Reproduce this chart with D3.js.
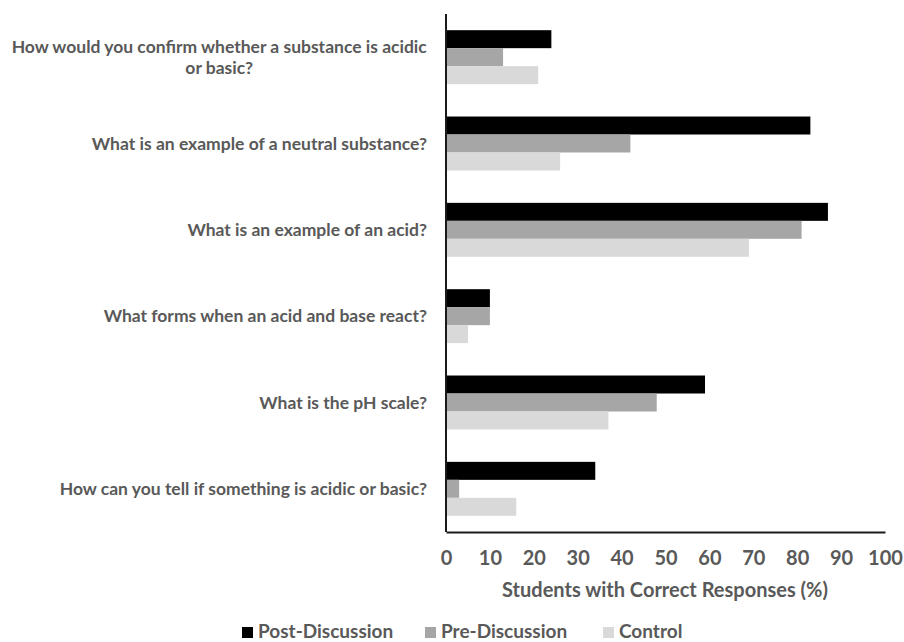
<!DOCTYPE html>
<html>
<head>
<meta charset="utf-8">
<script src="https://cdn.jsdelivr.net/npm/d3@7"></script>
<style>
  body { margin: 0; background: #fff; }
  text { font-family: Lato, "Open Sans", sans-serif; font-weight: bold; fill: #595959; }
</style>
</head>
<body>
<div id="chart"></div>
<script>
// questions, top to bottom; "\n" splits a label into lines
var questions = [
    "How would you confirm whether a substance is acidic\nor basic?",
    "What is an example of a neutral substance?",
    "What is an example of an acid?",
    "What forms when an acid and base react?",
    "What is the pH scale?",
    "How can you tell if something is acidic or basic?"
];
var seriesNames = ["Post-Discussion", "Pre-Discussion", "Control"];
var postDiscussion = [24, 83, 87, 10, 59, 34];
var preDiscussion = [13, 42, 81, 10, 48, 3];
var control = [21, 26, 69, 5, 37, 16];
var xTicks = [0, 10, 20, 30, 40, 50, 60, 70, 80, 90, 100];
var colors = ["#000000", "#a6a6a6", "#d9d9d9"];

function init() {
    var w = 904;
    var h = 642;
    var margin = {top: 14, right: 19, bottom: 110, left: 446};

    var allSeries = [postDiscussion, preDiscussion, control];

    var svg = d3.select("#chart")
                .append("svg")
                .attr("width", w)
                .attr("height", h);

    var x = d3.scaleLinear()
              .domain([0, 100])
              .range([margin.left, w - margin.right]);

    var y = d3.scaleBand()
              .domain(questions)
              .range([margin.top, h - margin.bottom])
              .paddingInner(0.375)
              .paddingOuter(0.1875);

    var inner = d3.scaleBand()
                  .domain(seriesNames)
                  .range([0, y.bandwidth()]);

    var groups = svg.selectAll("g.group")
        .data(questions)
        .enter()
        .append("g")
        .attr("class", "group")
        .attr("transform", function(d) { return "translate(0," + y(d) + ")"; });

    groups.selectAll("rect")
        .data(function(d, i) {
            return seriesNames.map(function(s, j) {
                return {series: s, value: allSeries[j][i], color: colors[j]};
            });
        })
        .enter()
        .append("rect")
        .attr("x", x(0))
        .attr("y", function(d) { return inner(d.series); })
        .attr("width", function(d) { return x(d.value) - x(0); })
        .attr("height", inner.bandwidth())
        .attr("fill", function(d) { return d.color; });

    // axes
    var xAxis = d3.axisBottom(x)
                  .tickValues(xTicks)
                  .tickSize(0)
                  .tickPadding(19);

    var gx = svg.append("g")
       .attr("transform", "translate(0," + (h - margin.bottom) + ")")
       .call(xAxis);
    gx.select(".domain").attr("stroke", "#1a1a1a").attr("stroke-width", 2);
    gx.selectAll("text").style("font-size", "20px").attr("fill", "#595959");

    svg.append("line")
       .attr("x1", x(0)).attr("x2", x(0))
       .attr("y1", margin.top).attr("y2", h - margin.bottom)
       .attr("stroke", "#1a1a1a")
       .attr("stroke-width", 2);

    // category labels
    var labels = svg.selectAll("text.cat")
        .data(questions)
        .enter()
        .append("text")
        .attr("class", "cat")
        .style("font-size", "17.5px")
        .attr("text-anchor", "middle");

    labels.each(function(d) {
        var lines = d.split("\n");
        var t = d3.select(this);
        var cy = y(d) + y.bandwidth() / 2;
        var lh = 21;
        var y0 = cy - (lines.length - 1) * lh / 2;
        lines.forEach(function(line, k) {
            t.append("tspan")
             .attr("x", 0)
             .attr("y", y0 + k * lh)
             .attr("dy", "0.35em")
             .text(line);
        });
        // right-align the whole block at x = 427
        var bb = this.getBBox();
        t.attr("transform", "translate(" + (427 - bb.width / 2) + ",0)");
    });

    // axis title
    svg.append("text")
       .attr("x", 665)
       .attr("y", 590)
       .attr("dy", "0.35em")
       .attr("text-anchor", "middle")
       .style("font-size", "20px")
       .text("Students with Correct Responses (%)");

    // legend
    var legendX = [242, 425, 603];
    var legend = svg.selectAll("g.legend")
        .data(seriesNames)
        .enter()
        .append("g")
        .attr("class", "legend")
        .attr("transform", function(d, i) { return "translate(" + legendX[i] + ",632)"; });

    legend.append("rect")
        .attr("x", 0)
        .attr("y", -5)
        .attr("width", 11)
        .attr("height", 11)
        .attr("fill", function(d, i) { return colors[i]; });

    legend.append("text")
        .attr("x", 16)
        .attr("y", 0)
        .attr("dy", "0.33em")
        .style("font-size", "19px")
        .text(function(d) { return d; });
}

window.onload = init;
</script>
</body>
</html>
